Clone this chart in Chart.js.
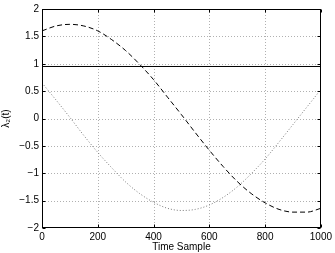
<!DOCTYPE html>
<html>
<head>
<meta charset="utf-8">
<script src="https://cdn.jsdelivr.net/npm/chart.js@4.4.1/dist/chart.umd.min.js"></script>
<style>
  html, body { margin: 0; padding: 0; background: #fff; }
  #wrap { width: 335px; height: 253px; }
</style>
</head>
<body>
<div id="wrap"><canvas id="c" width="335" height="253"></canvas></div>
<script>
// échantillons
const samples = [0, 50, 100, 150, 200, 250, 300, 350, 400, 450, 500,
                 550, 600, 650, 700, 750, 800, 850, 900, 950, 1000];
const dashedVals = [1.60, 1.69, 1.72, 1.69, 1.60, 1.44, 1.24, 0.99, 0.71, 0.39, 0.07,
                    -0.26, -0.58, -0.88, -1.15, -1.37, -1.54, -1.66, -1.71, -1.71, -1.64];
const dottedVals = [0.65, 0.34, 0.02, -0.31, -0.62, -0.90, -1.16, -1.37, -1.53, -1.64, -1.68,
                    -1.66, -1.58, -1.44, -1.25, -1.01, -0.74, -0.43, -0.11, 0.21, 0.53];
const levelX = [0, 1000];
const levelVals = [0.95, 0.95];

const xTicks = [0, 200, 400, 600, 800, 1000];
const yTicks = [-2, -1.5, -1, -0.5, 0, 0.5, 1, 1.5, 2];

const toPts = (xs, ys) => xs.map((x, i) => ({ x: x, y: ys[i] }));
const fontFam = '"Liberation Sans", Arial, Helvetica, sans-serif';

// cadre, grille pointillée et graduations intérieures (style matlab)
const framePlugin = {
  id: 'frame',
  beforeDatasetsDraw(chart) {
    const { ctx, chartArea: a, scales: { x, y } } = chart;
    ctx.save();
    ctx.strokeStyle = '#b0b0b0';
    ctx.lineWidth = 1;
    ctx.setLineDash([1, 2]);
    xTicks.forEach(v => {
      if (v === x.min || v === x.max) return;
      const px = Math.round(x.getPixelForValue(v)) + 0.5;
      ctx.beginPath(); ctx.moveTo(px, a.top); ctx.lineTo(px, a.bottom); ctx.stroke();
    });
    yTicks.forEach(v => {
      if (v === y.min || v === y.max) return;
      const py = Math.round(y.getPixelForValue(v)) + 0.5;
      ctx.beginPath(); ctx.moveTo(a.left, py); ctx.lineTo(a.right, py); ctx.stroke();
    });
    ctx.restore();
  },
  afterDraw(chart) {
    const { ctx, chartArea: a, scales: { x, y } } = chart;
    const L = Math.round(a.left) + 0.5, R = Math.round(a.right) - 0.5;
    const T = Math.round(a.top) + 0.5, B = Math.round(a.bottom) - 0.5;
    ctx.save();
    ctx.strokeStyle = '#000';
    ctx.lineWidth = 1;
    ctx.setLineDash([]);
    ctx.strokeRect(L, T, R - L, B - T);
    const tl = 3;
    xTicks.forEach(v => {
      const px = Math.round(x.getPixelForValue(v)) + 0.5;
      ctx.beginPath();
      ctx.moveTo(px, B); ctx.lineTo(px, B - tl);
      ctx.moveTo(px, T); ctx.lineTo(px, T + tl);
      ctx.stroke();
    });
    yTicks.forEach(v => {
      const py = Math.round(y.getPixelForValue(v)) + 0.5;
      ctx.beginPath();
      ctx.moveTo(L, py); ctx.lineTo(L + tl, py);
      ctx.moveTo(R, py); ctx.lineTo(R - tl, py);
      ctx.stroke();
    });
    ctx.restore();
  }
};

new Chart(document.getElementById('c'), {
  type: 'line',
  data: {
    datasets: [
      {
        data: toPts(levelX, levelVals),
        borderColor: '#000', borderWidth: 1, pointRadius: 0, tension: 0
      },
      {
        data: toPts(samples, dashedVals),
        borderColor: '#000', borderWidth: 1, borderDash: [5, 3],
        pointRadius: 0, cubicInterpolationMode: 'monotone'
      },
      {
        data: toPts(samples, dottedVals),
        borderColor: '#777', borderWidth: 1, borderDash: [1, 2],
        pointRadius: 0, cubicInterpolationMode: 'monotone'
      }
    ]
  },
  options: {
    responsive: false,
    animation: false,
    layout: { padding: { top: 7, right: 14, left: 0, bottom: 0 } },
    plugins: { legend: { display: false }, tooltip: { enabled: false } },
    scales: {
      x: {
        type: 'linear', min: 0, max: 1000,
        afterBuildTicks: s => { s.ticks = xTicks.map(v => ({ value: v })); },
        afterFit: s => { s.height = 25; },
        grid: { display: false, drawTicks: false, tickLength: 0 },
        border: { display: false },
        ticks: {
          color: '#000', padding: 3, maxRotation: 0,
          font: { family: fontFam, size: 10 },
          callback: v => String(v)
        },
        title: {
          display: true, text: 'Time Sample', color: '#000',
          padding: { top: 0, bottom: 0 },
          font: { family: fontFam, size: 10 }
        }
      },
      y: {
        type: 'linear', min: -2, max: 2,
        afterBuildTicks: s => { s.ticks = yTicks.map(v => ({ value: v })); },
        afterFit: s => { s.width = 42; },
        grid: { display: false, drawTicks: false, tickLength: 0 },
        border: { display: false },
        ticks: {
          color: '#000', padding: 3,
          font: { family: fontFam, size: 10 },
          callback: v => String(v).replace('-', '\u2212')
        },
        title: {
          display: true, text: 'λ₂(t)', color: '#000',
          padding: { top: 0, bottom: 0 },
          font: { family: fontFam, size: 10 }
        }
      }
    }
  },
  plugins: [framePlugin]
});
</script>
</body>
</html>
